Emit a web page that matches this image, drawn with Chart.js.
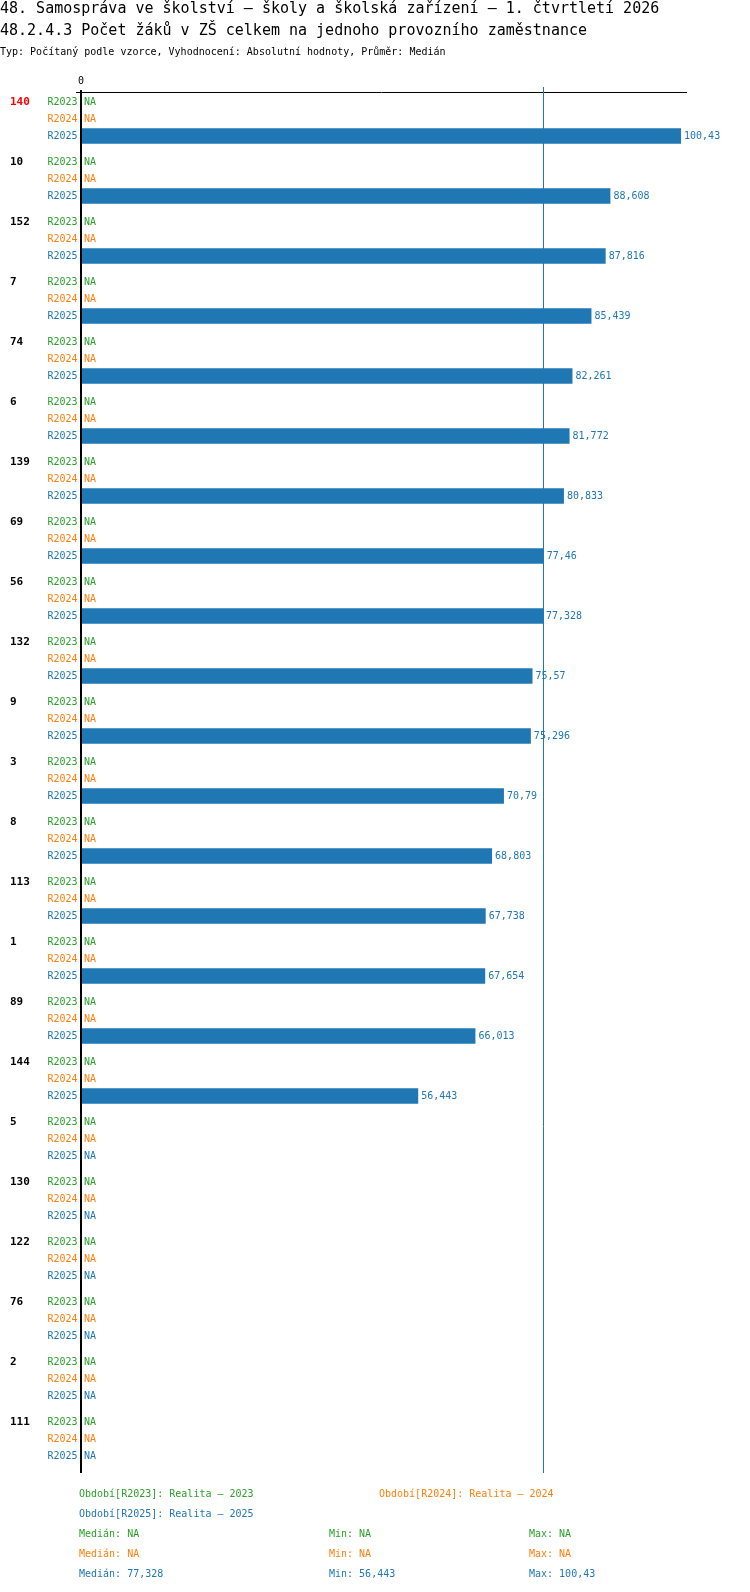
<!DOCTYPE html>
<html lang="cs">
<head>
<meta charset="utf-8">
<title>48.2.4.3 Počet žáků v ZŠ celkem na jednoho provozního zaměstnance</title>
<script src="https://cdn.jsdelivr.net/npm/chart.js@4/dist/chart.umd.min.js"></script>
<style>
  body { margin: 0; background: #fff; }
  #wrap { position: relative; width: 750px; height: 1592px; }
</style>
</head>
<body>
<div id="wrap"><canvas id="myChart"></canvas></div>
<script>
"use strict"

// data
const groups = ["140", "10", "152", "7", "74", "6", "139", "69", "56", "132", "9", "3",
                "8", "113", "1", "89", "144", "5", "130", "122", "76", "2", "111"];
const seriesNames = ["R2023", "R2024", "R2025"];
const seriesTitles = ["Realita - 2023", "Realita - 2024", "Realita - 2025"];
const r2023 = groups.map(() => null);
const r2024 = groups.map(() => null);
const r2025 = [100.43, 88.608, 87.816, 85.439, 82.261, 81.772, 80.833, 77.46, 77.328, 75.57,
               75.296, 70.79, 68.803, 67.738, 67.654, 66.013, 56.443, null, null, null, null, null, null];
const xTicks = [0];
const xMax = 101.43;

const titleLines = [
  "48. Samospráva ve školství – školy a školská zařízení – 1. čtvrtletí 2026",
  "48.2.4.3 Počet žáků v ZŠ celkem na jednoho provozního zaměstnance"
];
const subTitle = "Typ: Počítaný podle vzorce, Vyhodnocení: Absolutní hodnoty, Průměr: Medián";

const colors = ["#2ca02c", "#ff7f0e", "#1f77b4"];
const MONO = '"DejaVu Sans Mono", "Liberation Mono", monospace';

// cislo s desetinnou carkou
function fmt(v) {
  return v === null ? "NA" : String(v).replace(".", ",");
}

function stats(arr) {
  const vals = arr.filter(v => v !== null).sort((a, b) => a - b);
  if (!vals.length) return { med: null, min: null, max: null };
  const m = Math.floor(vals.length / 2);
  const med = vals.length % 2 ? vals[m] : (vals[m - 1] + vals[m]) / 2;
  return { med: med, min: vals[0], max: vals[vals.length - 1] };
}

const allSeries = [r2023, r2024, r2025];

const overlay = {
  id: "overlay",
  afterDatasetsDraw(chart) {
    const ctx = chart.ctx;
    const area = chart.chartArea;
    const x = chart.scales.x;
    const y = chart.scales.y;
    const x0 = x.getPixelForValue(0);
    ctx.save();
    ctx.textBaseline = "middle";
    ctx.textAlign = "left";

    // nadpisy
    ctx.fillStyle = "#000";
    ctx.font = "15px " + MONO;
    ctx.fillText(titleLines[0], 0, 9);
    ctx.fillText(titleLines[1], 0, 31);
    ctx.font = "10px " + MONO;
    ctx.fillText(subTitle, 0, 52);

    // horni osa
    ctx.strokeStyle = "#000";
    ctx.lineWidth = 1;
    ctx.beginPath();
    ctx.moveTo(x0 - 5, 92.5);
    ctx.lineTo(area.right, 92.5);
    ctx.stroke();
    ctx.textAlign = "center";
    xTicks.forEach(t => ctx.fillText(String(t), x.getPixelForValue(t), 81));

    // median line
    const st2025 = stats(r2025);
    const xm = Math.round(x.getPixelForValue(st2025.med)) + 0.5;
    ctx.strokeStyle = colors[2];
    ctx.beginPath();
    ctx.moveTo(xm, 87);
    ctx.lineTo(xm, area.bottom + 4);
    ctx.stroke();

    // svisla osa
    ctx.strokeStyle = "#000";
    ctx.lineWidth = 2;
    ctx.beginPath();
    ctx.moveTo(x0, area.top + 1);
    ctx.lineTo(x0, area.bottom + 4);
    ctx.stroke();

    // popisky skupin a serii
    const catH = (area.bottom - area.top) / groups.length;
    const slot = catH * 0.85 / 3;
    groups.forEach((g, j) => {
      const yc = y.getPixelForValue(j);
      ctx.textAlign = "left";
      ctx.font = "bold 11px " + MONO;
      ctx.fillStyle = j === 0 ? "#ff0000" : "#000";
      ctx.fillText(g, 10, yc - slot);
      allSeries.forEach((s, i) => {
        const el = chart.getDatasetMeta(i).data[j];
        const ry = el && isFinite(el.y) ? el.y : yc + (i - 1) * slot;
        ctx.font = "10px " + MONO;
        ctx.fillStyle = colors[i];
        ctx.textAlign = "right";
        ctx.fillText(seriesNames[i], 77.5, ry);
        ctx.textAlign = "left";
        if (s[j] === null) {
          ctx.fillText("NA", 84, ry);
        } else {
          ctx.fillText(fmt(s[j]), x.getPixelForValue(s[j]) + 3, ry);
        }
      });
    });

    // legenda dole
    ctx.font = "10px " + MONO;
    ctx.textAlign = "left";
    const legPos = [[79, 1494], [379, 1494], [79, 1514]];
    seriesNames.forEach((n, i) => {
      ctx.fillStyle = colors[i];
      ctx.fillText("Období[" + n + "]: " + seriesTitles[i].replace("-", "–"), legPos[i][0], legPos[i][1]);
    });
    allSeries.forEach((s, i) => {
      const st = stats(s);
      const yy = 1534 + i * 20;
      ctx.fillStyle = colors[i];
      ctx.fillText("Medián: " + fmt(st.med), 79, yy);
      ctx.fillText("Min: " + fmt(st.min), 329, yy);
      ctx.fillText("Max: " + fmt(st.max), 529, yy);
    });
    ctx.restore();
  }
};

const ctx = document.getElementById("myChart");

new Chart(ctx, {
  type: "bar",
  data: {
    labels: groups,
    datasets: allSeries.map((s, i) => ({
      label: seriesNames[i],
      data: s,
      backgroundColor: colors[i],
      borderWidth: 0,
      categoryPercentage: 0.85,
      barPercentage: 0.92
    }))
  },
  options: {
    indexAxis: "y",
    responsive: true,
    maintainAspectRatio: false,
    animation: false,
    layout: { padding: { left: 81, right: 63, top: 89, bottom: 123 } },
    plugins: {
      legend: { display: false },
      tooltip: { enabled: false },
      title: { display: false }
    },
    scales: {
      x: { display: false, min: 0, max: xMax },
      y: { display: false }
    }
  },
  plugins: [overlay]
});
</script>
</body>
</html>
